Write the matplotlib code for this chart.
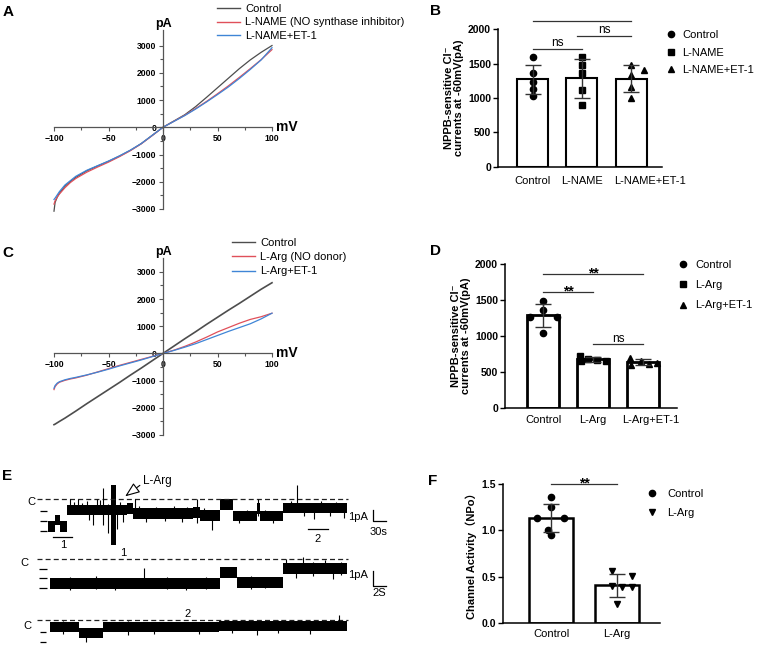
import numpy as np
import matplotlib
matplotlib.use('Agg')
import matplotlib.pyplot as plt
from matplotlib.lines import Line2D
from matplotlib.transforms import ScaledTranslation

plt.rcParams['font.family'] = ['Liberation Sans', 'DejaVu Sans', 'Noto Sans CJK SC']

W, H = 759, 647

# ---------------- data ----------------
# I-V curves (mV -> pA)
iv_mv = [-100, -99, -97, -95, -90, -85, -80, -70, -60, -50, -40, -30, -20, -10,
         0, 10, 20, 30, 40, 50, 60, 70, 80, 90, 100]
a_control = [-3080, -2760, -2560, -2420, -2170, -1990, -1840, -1600, -1420, -1250, -1060, -850, -600, -300,
             0, 230, 460, 760, 1100, 1450, 1800, 2150, 2470, 2750, 3000]
a_lname = [-2820, -2700, -2560, -2450, -2220, -2030, -1880, -1650, -1460, -1280, -1080, -860, -610, -310,
           0, 220, 440, 690, 950, 1230, 1520, 1830, 2150, 2480, 2850]
a_lname_et1 = [-2650, -2600, -2480, -2360, -2120, -1960, -1800, -1580, -1410, -1240, -1050, -840, -600, -300,
               0, 215, 430, 670, 930, 1200, 1480, 1790, 2120, 2470, 2920]
c_control = [-2620, -2600, -2550, -2500, -2380, -2250, -2120, -1850, -1590, -1330, -1070, -800, -540, -270,
             0, 270, 540, 800, 1070, 1330, 1590, 1840, 2100, 2360, 2600]
c_larg = [-1330, -1220, -1120, -1060, -990, -940, -900, -800, -680, -560, -440, -330, -220, -110,
          0, 120, 260, 420, 600, 790, 950, 1110, 1250, 1350, 1480]
c_larg_et1 = [-1280, -1180, -1090, -1040, -970, -920, -880, -790, -690, -580, -460, -350, -240, -120,
              0, 110, 230, 360, 510, 660, 810, 950, 1090, 1270, 1480]

# bar panels
b_names = ['Control', 'L-NAME', 'L-NAME+ET-1']
b_control = [1590, 1360, 1240, 1130, 1030]
b_lname = [1600, 1480, 1360, 1110, 900]
b_lname_et1 = [1480, 1410, 1335, 1165, 995]
b_jitter = [[0, 0, 0, 0, 0], [0, 0, 0, 0, 0], [0, 0.27, 0, 0, 0]]

d_names = ['Control', 'L-Arg', 'L-Arg+ET-1']
d_control = [1490, 1365, 1270, 1265, 1045]
d_larg = [725, 685, 660, 655, 645]
d_larg_et1 = [695, 645, 605, 625, 595]
d_jitter = [[0, 0, -0.27, 0.27, 0], [-0.27, -0.1, 0.08, 0.25, -0.25], [-0.27, -0.05, 0.12, 0.27, -0.25]]

f_names = ['Control', 'L-Arg']
f_control = [1.36, 1.25, 1.13, 1.13, 1.0, 0.95]
f_larg = [0.56, 0.51, 0.40, 0.39, 0.385, 0.20]
f_jitter = [[0, 0, -0.22, 0.2, -0.05, 0], [-0.08, 0.22, -0.08, 0.07, 0.22, 0]]

# single-channel traces: step edges (s), open levels (pA), spikes (s, low, high)
t1_edges = [0, 16, 28, 44, 182, 196, 335, 351, 397, 427, 483, 490, 543, 691]
t1_levels = [-2.6, -2.0, -2.6, -1.05, -0.9, -1.4, -1.3, -1.55, -0.5, -1.6, -0.9, -1.6, -0.85]
t1_sp_t = [51, 60, 70, 78, 89, 95, 104, 112, 120, 127, 139, 159, 165, 172, 201, 210, 225, 250, 270,
           290, 310, 320, 343, 360, 378, 440, 460, 485, 500, 520, 560, 575, 590, 613, 630, 650, 665, 682]
t1_sp_lo = [-1.3, -1.3, -1.4, -1.3, -1.2, -2.0, -2.5, -1.2, -1.3, -2.5, -3.2, -2.9, -1.3, -2.2, -1.6, -1.7,
            -2.2, -1.7, -2.1, -1.7, -2.2, -1.7, -2.3, -1.8, -2.95, -2.3, -1.8, -1.6, -1.8, -2.3, -1.1, -1.0,
            -1.6, -1.9, -1.1, -1.6, -1.1, -1.8]
t1_sp_hi = [0.0, -0.3, 0.0, -0.4, -0.2, -0.8, -0.8, 0.0, -0.1, 1.05, -0.5, -0.6, -0.3, -0.8, 0.0, -0.7,
            -1.0, -0.8, -1.0, -0.7, -1.0, -0.8, 0.0, -0.9, -1.2, -1.2, -1.0, 0.0, -1.0, -1.2, -0.2, 1.33,
            -0.6, -0.7, -0.2, -0.6, -0.3, -0.6]
t1_burst = [146, 157]
t1_burst_range = [-4.4, 1.35]

t2_edges = [0, 26.2, 28.7, 35.9, 45.7]
t2_levels = [-2.43, -1.33, -2.33, -0.93]
t2_sp_t = [3, 7, 10, 14.5, 18, 21.0, 24, 31, 33, 36.3, 37.8, 38.9, 40.5, 42.3, 43.5, 44.8]
t2_sp_lo = [-3.1, -3.0, -3.1, -2.4, -3.0, -3.1, -3.0, -3.0, -2.9, -1.4, -1.9, -1.4, -1.7, -1.4, -2.0, -1.6]
t2_sp_hi = [-1.8, -1.7, -1.9, -0.9, -1.8, -2.0, -1.8, -1.7, -1.8, 0.0, -0.5, 0.2, -0.3, -0.1, -0.5, -0.3]

t3_edges = [0, 4.4, 8.2, 26, 45.7]
t3_levels = [-0.7, -1.3, -0.75, -0.6]
t3_sp_t = [2, 5.5, 12, 16, 22.9, 28, 31.9, 35, 40, 44.4]
t3_sp_lo = [-1.4, -2.2, -1.5, -1.4, -1.4, -1.3, -1.5, -1.3, -1.4, -0.6]
t3_sp_hi = [-0.1, -1.0, -0.1, -0.2, -0.4, -0.1, -0.4, 0.0, -0.1, 0.5]

col_ctrl = '#4d4d4d'
col_red = '#e0505a'
col_blue = '#3f85d6'

fig = plt.figure(figsize=(W / 100, H / 100), dpi=100)


def px_box(x0, y0, x1, y1):
    return [x0 / W, 1 - y1 / H, (x1 - x0) / W, (y1 - y0) / H]


def fig_pt(x, y):
    return (x / W, 1 - y / H)


def letter(x, y, s):
    fig.text(x / W, 1 - y / H, s, fontsize=11, fontweight='bold', ha='left', va='top')


def add_legend(ax, handles, labels, left, top, hl, pad, spacing):
    ax.legend(handles, labels, loc='upper left', bbox_to_anchor=fig_pt(left, top),
              bbox_transform=fig.transFigure, frameon=False, fontsize=8, borderpad=0,
              borderaxespad=0, handlelength=hl, handletextpad=pad, labelspacing=spacing)


def iv_axes(box, ytop):
    ax = fig.add_axes(px_box(*box))
    ax.patch.set_visible(False)
    ax.set_xlim(-100, 100)
    ax.set_ylim(-3000, ytop)
    for s in ['top', 'right']:
        ax.spines[s].set_visible(False)
    ax.spines['left'].set_position(('data', 0))
    ax.spines['bottom'].set_position(('data', 0))
    for s in ['left', 'bottom']:
        ax.spines[s].set_color('#555555')
        ax.spines[s].set_linewidth(0.9)
    ax.set_xticks([-100, -50, 0, 50, 100])
    ax.set_xticks(np.arange(-100, 101, 25), minor=True)
    ax.set_yticks(np.arange(-3000, 3001, 1000))
    ax.set_yticks(np.arange(-3000, 3001, 500), minor=True)
    ax.tick_params(which='major', length=3, width=0.8, color='#555555', labelsize=6.2, pad=2)
    ax.tick_params(which='minor', length=2, width=0.8, color='#555555')
    for lab in ax.get_xticklabels() + ax.get_yticklabels():
        lab.set_fontweight('bold')
    ax.text(0, ytop, 'pA', ha='center', va='bottom', fontsize=9, fontweight='bold')
    ax.annotate('mV', xy=(100, 0), xytext=(3, 0), textcoords='offset points',
                ha='left', va='center', fontsize=10, fontweight='bold')
    return ax


def bar_axes(box, xlim, ymax, yticks, width, groups, jitter, markers, names, edge_lw, xpad):
    ax = fig.add_axes(px_box(*box))
    ax.patch.set_visible(False)
    pos = np.arange(len(groups))
    means = [np.mean(g) for g in groups]
    sds = [np.std(g, ddof=1) for g in groups]
    ax.bar(pos, means, width=width, color='white', edgecolor='black', linewidth=edge_lw, zorder=1)
    for p, g, off, m in zip(pos, groups, jitter, markers):
        ax.plot(p + np.array(off), g, linestyle='none', marker=m, color='black',
                markersize=4.5, zorder=2, clip_on=False)
    ax.errorbar(pos, means, yerr=sds, fmt='none', ecolor='#333333', elinewidth=1,
                capsize=6, capthick=1, zorder=3)
    ax.set_xlim(*xlim)
    ax.set_ylim(0, ymax)
    ax.set_yticks(yticks)
    ax.set_xticks(pos, names)
    for s in ['top', 'right']:
        ax.spines[s].set_visible(False)
    for s in ['left', 'bottom']:
        ax.spines[s].set_linewidth(1.1)
    ax.tick_params(axis='y', length=3.5, width=1, labelsize=7.5, pad=1.5)
    ax.tick_params(axis='x', length=0, labelsize=8, pad=xpad)
    for lab in ax.get_yticklabels():
        lab.set_fontweight('bold')
    return ax


def nudge_label(ax, idx, dx_px):
    lab = ax.get_xticklabels()[idx]
    lab.set_transform(lab.get_transform() + ScaledTranslation(dx_px / 100, 0, fig.dpi_scale_trans))


def sig(ax, x1, x2, y, label):
    ax.plot([x1, x2], [y, y], color='#333333', lw=0.9, clip_on=False)
    if label == 'ns':
        ax.annotate(label, xy=((x1 + x2) / 2, y), xytext=(0, 2), textcoords='offset points',
                    ha='center', va='baseline', fontsize=8.5)
    else:
        ax.annotate(label, xy=((x1 + x2) / 2, y), xytext=(0, -2.5), textcoords='offset points',
                    ha='center', va='baseline', fontsize=10, fontweight='bold')


cl_label = 'NPPB-sensitive Cl\u207b\ncurrents at -60mV(pA)'

# ---------------- A ----------------
letter(3, 5, 'A')
axA = iv_axes((54, 30, 272, 209), 3570)
axA.plot(iv_mv, a_control, color=col_ctrl, lw=0.9, clip_on=False)
axA.plot(iv_mv, a_lname, color=col_red, lw=0.9, clip_on=False)
axA.plot(iv_mv, a_lname_et1, color=col_blue, lw=0.9, clip_on=False)
add_legend(axA, [Line2D([], [], color=c, lw=1) for c in (col_ctrl, col_red, col_blue)],
           ['Control', 'L-NAME (NO synthase inhibitor)', 'L-NAME+ET-1'],
           217, 3.8, 2.07, 0.45, 0.33)

# ---------------- B ----------------
letter(430, 4, 'B')
axB = bar_axes((498, 29.3, 662, 166.7), (-0.71, 2.63), 2000, [0, 500, 1000, 1500, 2000], 0.63,
               [b_control, b_lname, b_lname_et1], b_jitter, ['o', 's', '^'], b_names, 1.5, 7)
nudge_label(axB, 2, 19)
axB.set_ylabel(cl_label, fontsize=8, fontweight='bold', labelpad=3, linespacing=1.0)
sig(axB, 0, 2, 2120, 'ns')
sig(axB, 0.9, 2, 1907, 'ns')
sig(axB, 0, 1, 1713, 'ns')
add_legend(axB, [Line2D([], [], color='black', marker=m, linestyle='none', markersize=4.5) for m in 'os^'],
           b_names, 666.6, 30, 0.8, 0.58, 0.69)

# ---------------- C ----------------
letter(2, 246, 'C')
axC = iv_axes((54, 258, 272, 435), 3510)
axC.plot(iv_mv, c_control, color=col_ctrl, lw=1.2, clip_on=False)
axC.plot(iv_mv, c_larg, color=col_red, lw=0.9, clip_on=False)
axC.plot(iv_mv, c_larg_et1, color=col_blue, lw=0.9, clip_on=False)
add_legend(axC, [Line2D([], [], color=c, lw=1) for c in (col_ctrl, col_red, col_blue)],
           ['Control', 'L-Arg (NO donor)', 'L-Arg+ET-1'],
           232, 238, 2.07, 0.45, 0.38)

# ---------------- D ----------------
letter(430, 244, 'D')
axD = bar_axes((505, 264.3, 677, 407.7), (-0.76, 2.68), 2000, [0, 500, 1000, 1500, 2000], 0.64,
               [d_control, d_larg, d_larg_et1], d_jitter, ['o', 's', '^'], d_names, 2.0, 5)
nudge_label(axD, 2, 8)
axD.set_ylabel(cl_label, fontsize=8, fontweight='bold', labelpad=3, linespacing=1.0)
sig(axD, 0, 2, 1865, '**')
sig(axD, 0, 1, 1618, '**')
sig(axD, 1, 2, 884, 'ns')
add_legend(axD, [Line2D([], [], color='black', marker=m, linestyle='none', markersize=4.5) for m in 'os^'],
           d_names, 678.6, 260, 0.8, 0.67, 0.92)

# ---------------- F ----------------
letter(428, 474, 'F')
axF = bar_axes((503, 484, 660, 623), (-0.73, 1.65), 1.5, [0.0, 0.5, 1.0, 1.5], 0.67,
               [f_control, f_larg], f_jitter, ['o', 'v'], f_names, 1.8, 4)
axF.set_yticklabels(['0.0', '0.5', '1.0', '1.5'], fontweight='bold')
axF.set_ylabel('Channel Activity\uff08NPo\uff09', fontsize=8, fontweight='bold', labelpad=3)
sig(axF, 0, 1, 1.5, '**')
add_legend(axF, [Line2D([], [], color='black', marker=m, linestyle='none', markersize=4.5) for m in 'ov'],
           f_names, 647.6, 489, 0.8, 0.95, 0.78)

# ---------------- E ----------------
letter(2, 469, 'E')


def trace_axes(box, t0_px, sec_per_px, c_px, px_per_unit):
    x0, y0, x1, y1 = box
    ax = fig.add_axes(px_box(*box))
    ax.set_xlim((x0 - t0_px) * sec_per_px, (x1 - t0_px) * sec_per_px)
    ax.set_ylim(-(y1 - c_px) / px_per_unit, (c_px - y0) / px_per_unit)
    ax.axis('off')
    return ax


def draw_trace(ax, edges, levels, sp_t, sp_lo, sp_hi, half=0.5):
    y = np.array(list(levels) + [levels[-1]])
    ax.fill_between(edges, y - half, y + half, step='post', color='black', lw=0)
    ax.vlines(sp_t, sp_lo, sp_hi, color='black', lw=0.8)


def closed_line(ax, t_a, t_b, c_t, c_y, tick_levels, tick_a, tick_b):
    ax.hlines(0, t_a, t_b, linestyles=(0, (4, 2.5)), lw=0.9, color='#222222')
    ax.text(c_t, c_y, 'C', ha='center', va='center', fontsize=8)
    ax.hlines(tick_levels, tick_a, tick_b, lw=0.9, color='black')


def scale_bar(ax, t, y_top, y_bot, dt, pa_t, pa_y, s_t, s_y, s_label):
    ax.plot([t, t, t + dt], [y_top, y_bot, y_bot], color='black', lw=0.9, clip_on=False)
    ax.text(pa_t, pa_y, '1pA', ha='center', va='center', fontsize=8)
    ax.text(s_t, s_y, s_label, ha='center', va='center', fontsize=8)


ax1 = trace_axes((15, 474, 400, 552), 48, 30 / 13, 499, 10.5)
closed_line(ax1, -25, 693, -39, -0.3, [-1.15, -2.1, -3.05], -18.5, -2.3)
draw_trace(ax1, t1_edges, t1_levels, t1_sp_t, t1_sp_lo, t1_sp_hi)
ax1.fill_between(t1_burst, t1_burst_range[0], t1_burst_range[1], color='black', lw=0)
ax1.plot([11.5, 55], [-3.62, -3.62], color='black', lw=0.9)
ax1.text(35, -4.4, '1', ha='center', va='center', fontsize=8)
ax1.plot([600, 647], [-2.9, -2.9], color='black', lw=0.9)
ax1.text(623, -3.8, '2', ha='center', va='center', fontsize=8)
scale_bar(ax1, 750, -1.0, -2.1, 30, 716, -1.75, 762, -3.15, '30s')
ax1.text(220, 1.75, 'L-Arg', ha='left', va='center', fontsize=8.5)
ax1.annotate('', xy=(178, 0.25), xytext=(212, 1.3),
             arrowprops=dict(arrowstyle='-|>,head_length=0.9,head_width=0.35', fc='white', ec='black',
                             lw=0.8, mutation_scale=10, shrinkA=0, shrinkB=0))

ax2 = trace_axes((15, 545, 400, 600), 50, 2 / 13, 559, 10)
closed_line(ax2, -2.0, 45.9, -4.0, -0.4, [-1.0, -1.9, -2.9], -1.7, -0.46)
draw_trace(ax2, t2_edges, t2_levels, t2_sp_t, t2_sp_lo, t2_sp_hi, half=0.55)
ax2.text(11.2, 0.1, '1', ha='center', va='bottom', fontsize=8)
scale_bar(ax2, 49.7, -1.2, -2.7, 2, 47.4, -1.6, 50.7, -3.4, '2S')

ax3 = trace_axes((15, 605, 400, 647), 50, 2 / 13, 620, 10)
closed_line(ax3, -2.0, 45.9, -3.5, -0.6, [-1.2, -2.2], -1.54, -0.62)
draw_trace(ax3, t3_edges, t3_levels, t3_sp_t, t3_sp_lo, t3_sp_hi, half=0.5)
ax3.text(21.1, 0.1, '2', ha='center', va='bottom', fontsize=8)

fig.savefig('out.png', dpi=100)
